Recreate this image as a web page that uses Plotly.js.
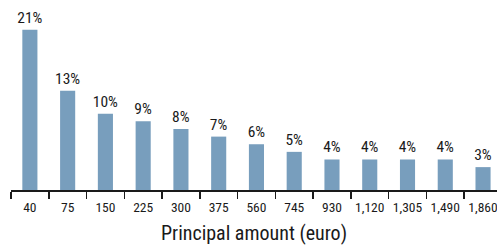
<!DOCTYPE html>
<html>
<head>
<meta charset="utf-8">
<script src="https://cdn.plot.ly/plotly-3.0.1.min.js"></script>
<style>
html,body{margin:0;padding:0;background:#fff;}
#chart{width:497px;height:245px;}
</style>
</head>
<body>
<div id="chart"></div>
<script>
const categories = ["40", "75", "150", "225", "300", "375", "560", "745", "930", "1,120", "1,305", "1,490", "1,860"];
const shares = [21, 13, 10, 9, 8, 7, 6, 5, 4, 4, 4, 4, 3];
const xTitle = "Principal amount (euro)";

const FONT = "'Roboto Condensed', 'Liberation Sans Narrow', 'Arial Narrow', sans-serif";

const trace = {
  type: "bar",
  x: categories,
  y: shares,
  marker: {color: "#789ebd"},
  texttemplate: "%{y}%",
  textposition: "outside",
  constraintext: "none",
  cliponaxis: false,
  textfont: {family: FONT, size: 15.5, color: "#1a1a1a"},
  hoverinfo: "skip"
};

const layout = {
  width: 497,
  height: 245,
  margin: {l: 11, r: 0, t: 10, b: 55},
  paper_bgcolor: "#ffffff",
  plot_bgcolor: "#ffffff",
  bargap: 0.6,
  showlegend: false,
  font: {family: FONT, color: "#1a1a1a"},
  xaxis: {
    type: "category",
    range: [-0.5, 12.37],
    tickson: "boundaries",
    ticks: "outside",
    ticklen: 7,
    tickwidth: 1.5,
    tickcolor: "#1a1a1a",
    tickangle: 0,
    ticklabelstandoff: 4,
    showline: true,
    linecolor: "#1a1a1a",
    linewidth: 1.5,
    showgrid: false,
    zeroline: false,
    tickfont: {family: FONT, size: 13.5, color: "#1a1a1a"},
    title: {text: xTitle, font: {family: FONT, size: 20, color: "#1a1a1a"}, standoff: 15}
  },
  yaxis: {
    range: [0, 23.6],
    visible: false,
    showgrid: false,
    zeroline: false
  }
};

Plotly.newPlot("chart", [trace], layout, {displayModeBar: false, staticPlot: true});
</script>
</body>
</html>
